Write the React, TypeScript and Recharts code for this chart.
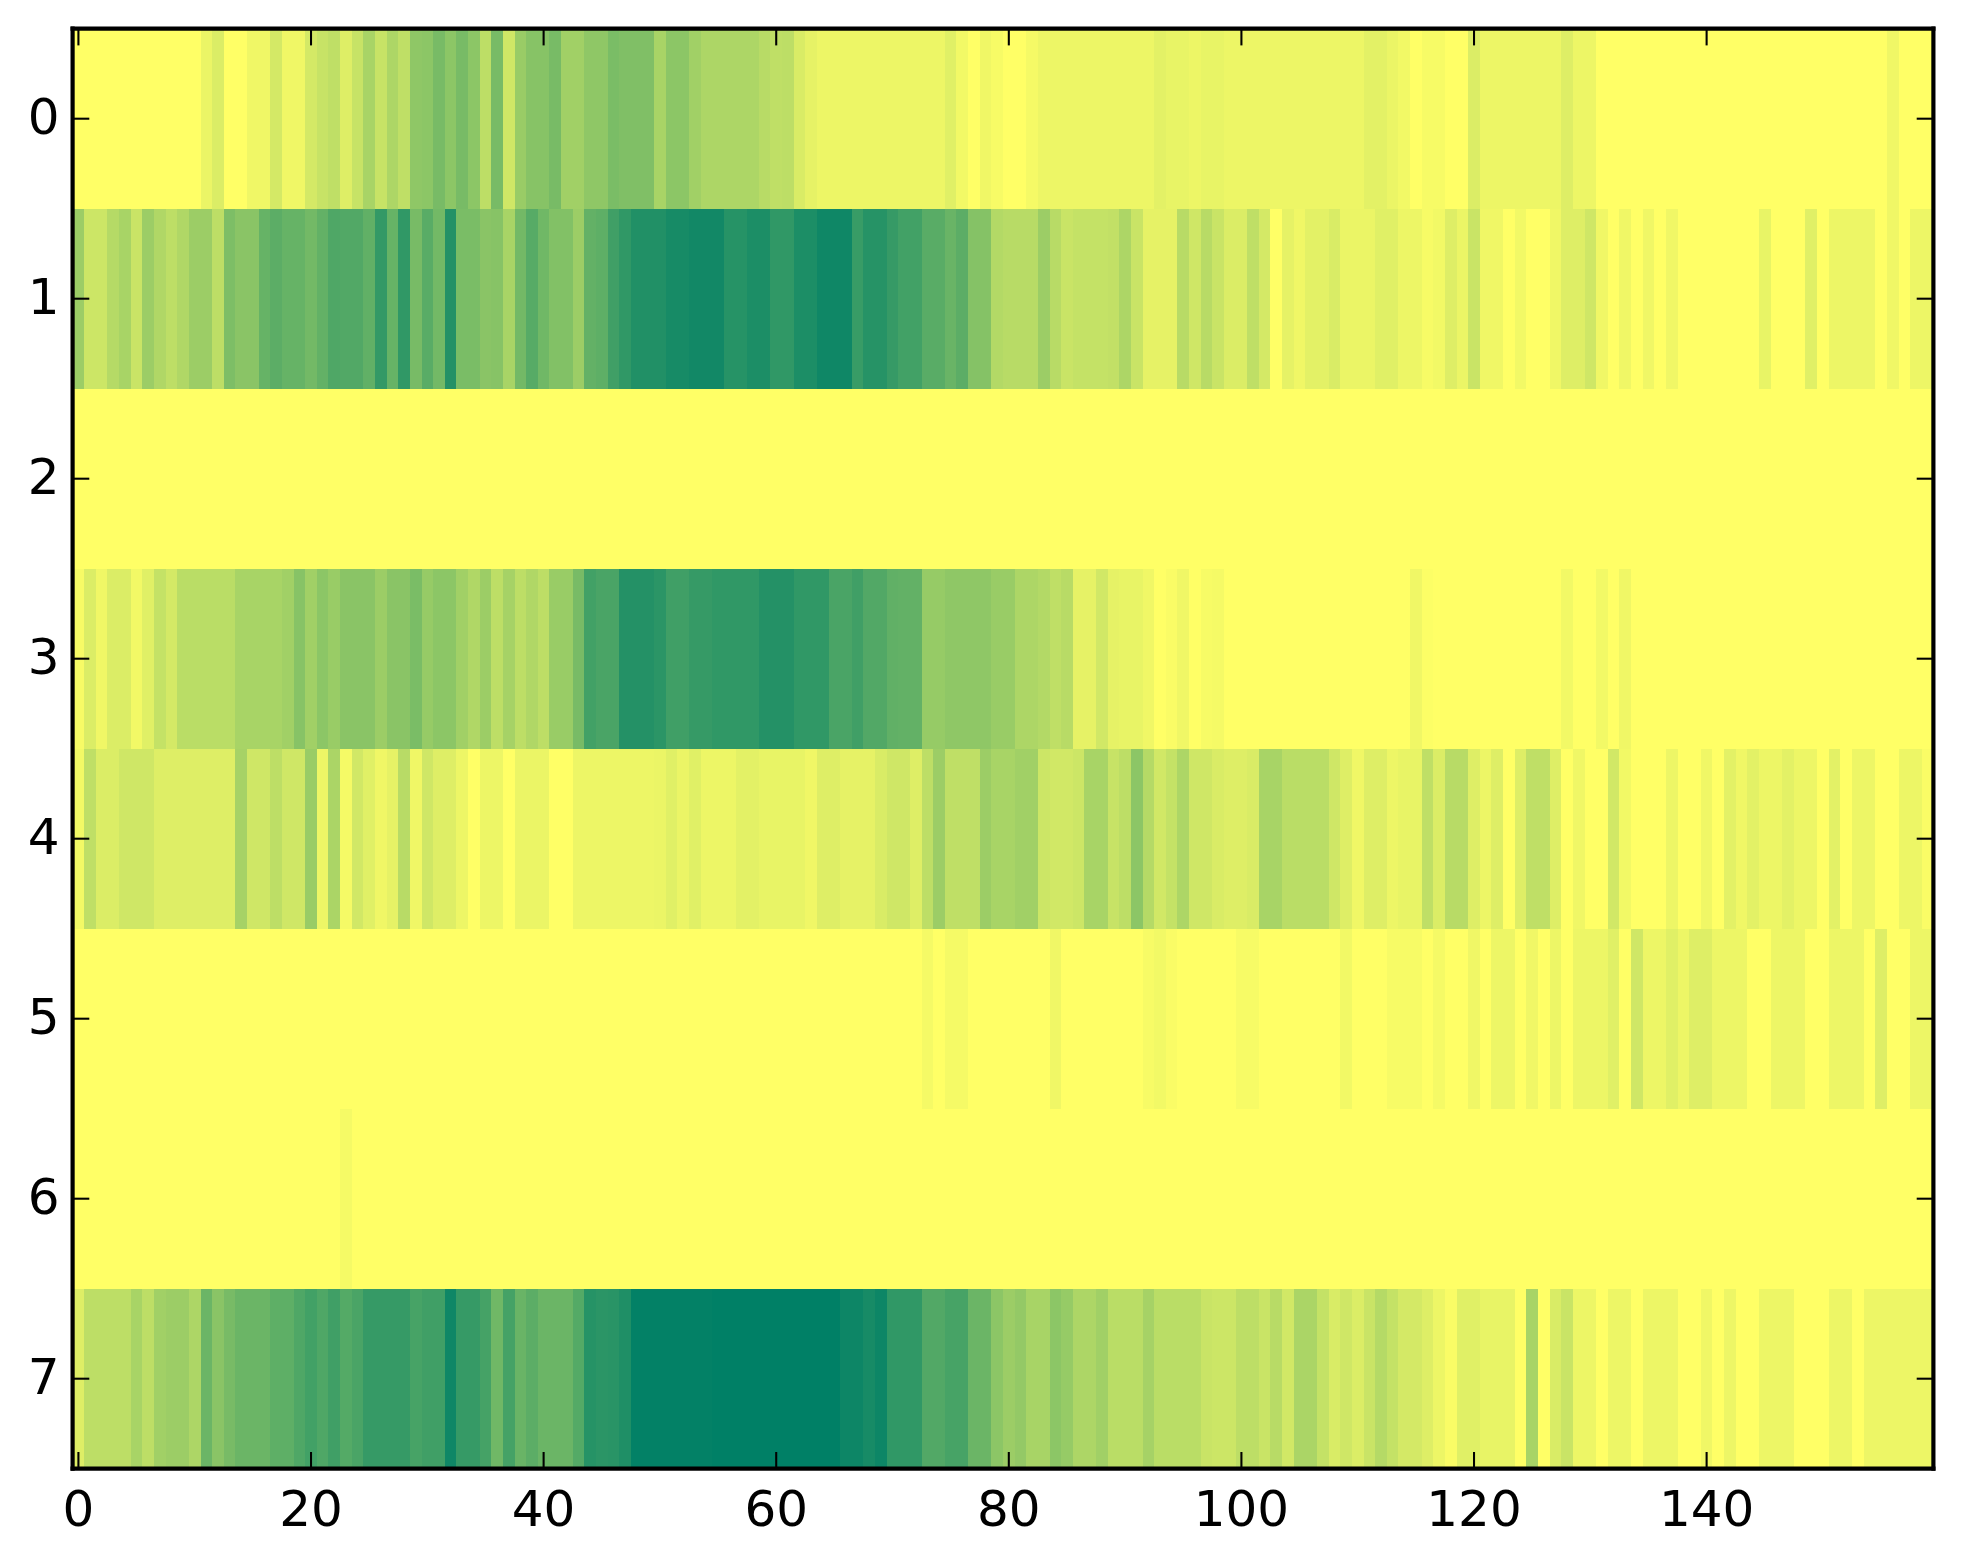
import React from 'react';
import { ScatterChart, Scatter, XAxis, YAxis } from 'recharts';

const row0 = [
  0,0,0,0,0,0,0,0,0,0,
  0,8,14,0,0,6,6,17,6,6,
  17,22,25,13,22,34,22,32,25,44,
  45,53,45,53,45,26,53,19,40,47,
  47,53,37,37,44,44,52,50,50,50,
  34,45,45,37,32,32,32,32,32,28,
  25,26,15,10,7,7,7,7,7,7,
  7,7,7,7,7,12,5,0,6,3,
  0,0,4,7,7,7,7,7,7,7,
  7,7,7,11,9,9,7,9,9,7,
  7,7,7,7,7,7,7,7,7,7,
  7,11,11,8,5,0,3,3,0,0,
  14,7,7,7,7,7,7,7,13,7,
  7,0,0,0,0,0,0,0,0,0,
  0,0,0,0,0,0,0,0,0,0,
  0,0,0,0,0,0,6,0,0,0,
];
const row1 = [
  39,20,20,29,34,21,39,31,26,31,
  39,39,26,51,46,46,60,64,60,60,
  55,61,69,68,68,62,80,60,81,53,
  65,55,86,52,52,46,47,34,55,66,
  56,49,49,39,61,63,75,81,87,87,
  87,91,91,93,93,93,85,85,89,89,
  81,81,89,89,94,94,94,78,85,85,
  79,74,74,65,65,59,64,48,48,30,
  28,28,28,39,28,21,23,23,23,24,
  32,21,10,10,10,28,19,28,21,14,
  14,25,17,0,10,6,11,11,15,8,
  8,8,12,12,7,7,3,5,13,8,
  21,6,6,0,5,0,0,6,13,13,
  19,6,0,6,0,6,0,6,0,0,
  0,0,0,0,0,9,0,0,0,12,
  0,7,7,7,7,0,6,0,7,7,
];
const row2 = [
  0,0,0,0,0,0,0,0,0,0, 0,0,0,0,0,0,0,0,0,0,
  0,0,0,0,0,0,0,0,0,0, 0,0,0,0,0,0,0,0,0,0,
  0,0,0,0,0,0,0,0,0,0, 0,0,0,0,0,0,0,0,0,0,
  0,0,0,0,0,0,0,0,0,0, 0,0,0,0,0,0,0,0,0,0,
  0,0,0,0,0,0,0,0,0,0, 0,0,0,0,0,0,0,0,0,0,
  0,0,0,0,0,0,0,0,0,0, 0,0,0,0,0,0,0,0,0,0,
  0,0,0,0,0,0,0,0,0,0, 0,0,0,0,0,0,0,0,0,0,
  0,0,0,0,0,0,0,0,0,0, 0,0,0,0,0,0,0,0,0,0,
];
const row3 = [
  3,14,6,14,14,5,12,23,17,27,
  27,27,27,27,34,34,34,34,37,47,
  37,45,40,46,46,46,39,46,46,52,
  41,45,45,37,31,39,26,35,26,31,
  26,40,40,53,74,71,71,86,86,86,
  83,75,75,79,79,81,81,81,81,86,
  86,86,81,81,81,71,71,75,68,68,
  62,61,61,41,41,44,44,44,44,40,
  40,32,32,30,25,28,10,10,18,10,
  9,9,6,0,2,6,0,3,4,0,
  0,0,0,0,0,0,0,0,0,0,
  0,0,0,0,0,6,1,0,0,0,
  0,0,0,0,0,0,0,0,5,0,
  0,5,0,6,0,0,0,0,0,0,
  0,0,0,0,0,0,0,0,0,0,
  0,0,0,0,0,0,0,0,0,0,
];
const row4 = [
  5,25,14,14,19,19,19,13,13,13,
  13,13,13,13,35,19,19,26,19,19,
  40,7,33,4,18,12,6,10,28,6,
  19,13,13,7,0,7,7,0,8,8,
  8,0,0,7,7,7,7,7,7,7,
  8,12,8,12,7,7,7,11,11,9,
  9,9,9,6,13,13,10,10,10,15,
  19,19,13,26,39,25,25,25,39,34,
  34,37,37,20,18,18,20,34,34,22,
  26,45,29,18,23,32,19,19,15,13,
  13,15,34,34,27,27,27,27,19,13,
  6,13,13,7,9,9,25,14,28,28,
  13,7,13,0,13,25,25,13,0,6,
  0,0,18,5,0,0,0,7,0,0,
  6,0,11,6,11,7,7,11,7,7,
  0,11,0,7,7,0,0,7,7,2,
];
const row5 = [
  0,0,0,0,0,0,0,0,0,0, 0,0,0,0,0,0,0,0,0,0,
  0,0,0,0,0,0,0,0,0,0, 0,0,0,0,0,0,0,0,0,0,
  0,0,0,0,0,0,0,0,0,0, 0,0,0,0,0,0,0,0,0,0,
  0,0,0,0,0,0,0,0,0,0,
  0,0,0,4,0,4,4,0,0,0,
  0,0,0,0,6,0,0,0,0,0,
  0,0,3,5,2,0,0,0,0,0,
  3,3,0,0,0,0,0,0,0,5,
  0,0,0,3,3,3,0,4,0,0,
  6,0,7,7,0,6,0,7,0,7,
  7,7,12,0,19,7,7,12,7,13,
  13,7,7,7,0,0,7,7,7,0,
  0,7,7,7,0,13,0,0,7,7,
];
const row6 = [
  0,0,0,0,0,0,0,0,0,0, 0,0,0,0,0,0,0,0,0,0,
  0,0,0,4,0,0,0,0,0,0, 0,0,0,0,0,0,0,0,0,0,
  0,0,0,0,0,0,0,0,0,0, 0,0,0,0,0,0,0,0,0,0,
  0,0,0,0,0,0,0,0,0,0, 0,0,0,0,0,0,0,0,0,0,
  0,0,0,0,0,0,0,0,0,0, 0,0,0,0,0,0,0,0,0,0,
  0,0,0,0,0,0,0,0,0,0, 0,0,0,0,0,0,0,0,0,0,
  0,0,0,0,0,0,0,0,0,0, 0,0,0,0,0,0,0,0,0,0,
  0,0,0,0,0,0,0,0,0,0, 0,0,0,0,0,0,0,0,0,0,
];
const row7 = [
  13,26,26,26,26,34,26,37,39,39,
  32,58,46,53,58,58,58,63,63,69,
  74,69,75,67,71,79,79,79,79,72,
  75,75,94,79,79,73,56,73,59,64,
  58,58,58,67,85,83,84,88,99,99,
  99,99,99,99,99,100,100,100,100,100,
  100,100,100,100,100,100,95,95,91,95,
  81,81,81,68,68,72,72,58,58,45,
  39,42,34,34,45,41,32,32,37,27,
  27,27,35,27,27,27,27,21,20,20,
  26,26,21,28,18,33,33,23,15,19,
  14,21,29,23,17,17,13,7,2,12,
  12,9,9,9,0,34,0,15,21,7,
  7,0,7,7,0,7,7,7,0,0,
  6,0,7,0,0,7,7,7,0,0,
  0,7,7,0,7,7,7,7,7,7,
];
const rows = [row0, row1, row2, row3, row4, row5, row6, row7];
const xTicks = [0, 20, 40, 60, 80, 100, 120, 140];
const yTicks = [0, 1, 2, 3, 4, 5, 6, 7];

const W = 1963;
const H = 1564;
const LEFT = 72.6;
const RIGHT = 29.6;
const TOP = 28.7;
const BOTTOM = 95.3;
const CELL_W = (W - LEFT - RIGHT) / 160;
const CELL_H = (H - TOP - BOTTOM) / 8;
const TICK = 16.7;
const FONT = '"DejaVu Sans"';
const FS = 50;

// reversed "summer" colour ramp, value 0..100
const colour = (v: number) => {
  const t = v / 100;
  const r = Math.round(255 * (1 - t));
  const g = Math.round(255 * (1 - t / 2));
  return `rgb(${r},${g},102)`;
};

const cells = rows.flatMap((row, y) => row.map((v, x) => ({ x, y, v })));

const Cell = (p: any) => (
  <rect
    x={p.cx - CELL_W / 2}
    y={p.cy - CELL_H / 2}
    width={CELL_W + 0.4}
    height={CELL_H + 0.4}
    fill={colour(p.payload.v)}
    shapeRendering="crispEdges"
  />
);

const line = { stroke: '#000', strokeWidth: 4.17, strokeLinecap: 'square' as const };

const BottomTick = (p: any) => (
  <g>
    <line x1={p.x} x2={p.x} y1={p.y} y2={p.y - TICK} stroke="#000" strokeWidth={2.08} />
    <text x={p.x} y={p.y + 57} textAnchor="middle" fontFamily={FONT} fontSize={FS} fill="#000">
      {p.payload.value}
    </text>
  </g>
);
const TopTick = (p: any) => (
  <line x1={p.x} x2={p.x} y1={p.y} y2={p.y + TICK} stroke="#000" strokeWidth={2.08} />
);
const LeftTick = (p: any) => (
  <g>
    <line x1={p.x} x2={p.x + TICK} y1={p.y} y2={p.y} stroke="#000" strokeWidth={2.08} />
    <text x={p.x - 13} y={p.y + 15.5} textAnchor="end" fontFamily={FONT} fontSize={FS} fill="#000">
      {p.payload.value}
    </text>
  </g>
);
const RightTick = (p: any) => (
  <line x1={p.x} x2={p.x - TICK} y1={p.y} y2={p.y} stroke="#000" strokeWidth={2.08} />
);

export default function App() {
  return (
    <div style={{ position: 'absolute', left: 0, top: 0, width: W, height: H, background: '#fff' }}>
      <ScatterChart width={W} height={H} margin={{ top: 0, right: 0, bottom: 0, left: 0 }}>
        <Scatter data={cells} dataKey="v" shape={Cell} isAnimationActive={false} zIndex={100} />
        <XAxis
          xAxisId={0}
          dataKey="x"
          type="number"
          orientation="bottom"
          domain={[-0.5, 159.5]}
          ticks={xTicks}
          interval={0}
          height={BOTTOM}
          allowDataOverflow
          axisLine={line}
          tickLine={false}
          tickSize={0}
          tickMargin={0}
          tick={BottomTick}
          zIndex={700}
        />
        <XAxis
          xAxisId="top"
          dataKey="x"
          type="number"
          orientation="top"
          domain={[-0.5, 159.5]}
          ticks={xTicks}
          interval={0}
          height={TOP}
          allowDataOverflow
          axisLine={line}
          tickLine={false}
          tickSize={0}
          tickMargin={0}
          tick={TopTick}
          zIndex={700}
        />
        <YAxis
          yAxisId={0}
          dataKey="y"
          type="number"
          orientation="left"
          reversed
          domain={[-0.5, 7.5]}
          ticks={yTicks}
          interval={0}
          width={LEFT}
          allowDataOverflow
          axisLine={line}
          tickLine={false}
          tickSize={0}
          tickMargin={0}
          tick={LeftTick}
          zIndex={700}
        />
        <YAxis
          yAxisId="right"
          dataKey="y"
          type="number"
          orientation="right"
          reversed
          domain={[-0.5, 7.5]}
          ticks={yTicks}
          interval={0}
          width={RIGHT}
          allowDataOverflow
          axisLine={line}
          tickLine={false}
          tickSize={0}
          tickMargin={0}
          tick={RightTick}
          zIndex={700}
        />
      </ScatterChart>
    </div>
  );
}
